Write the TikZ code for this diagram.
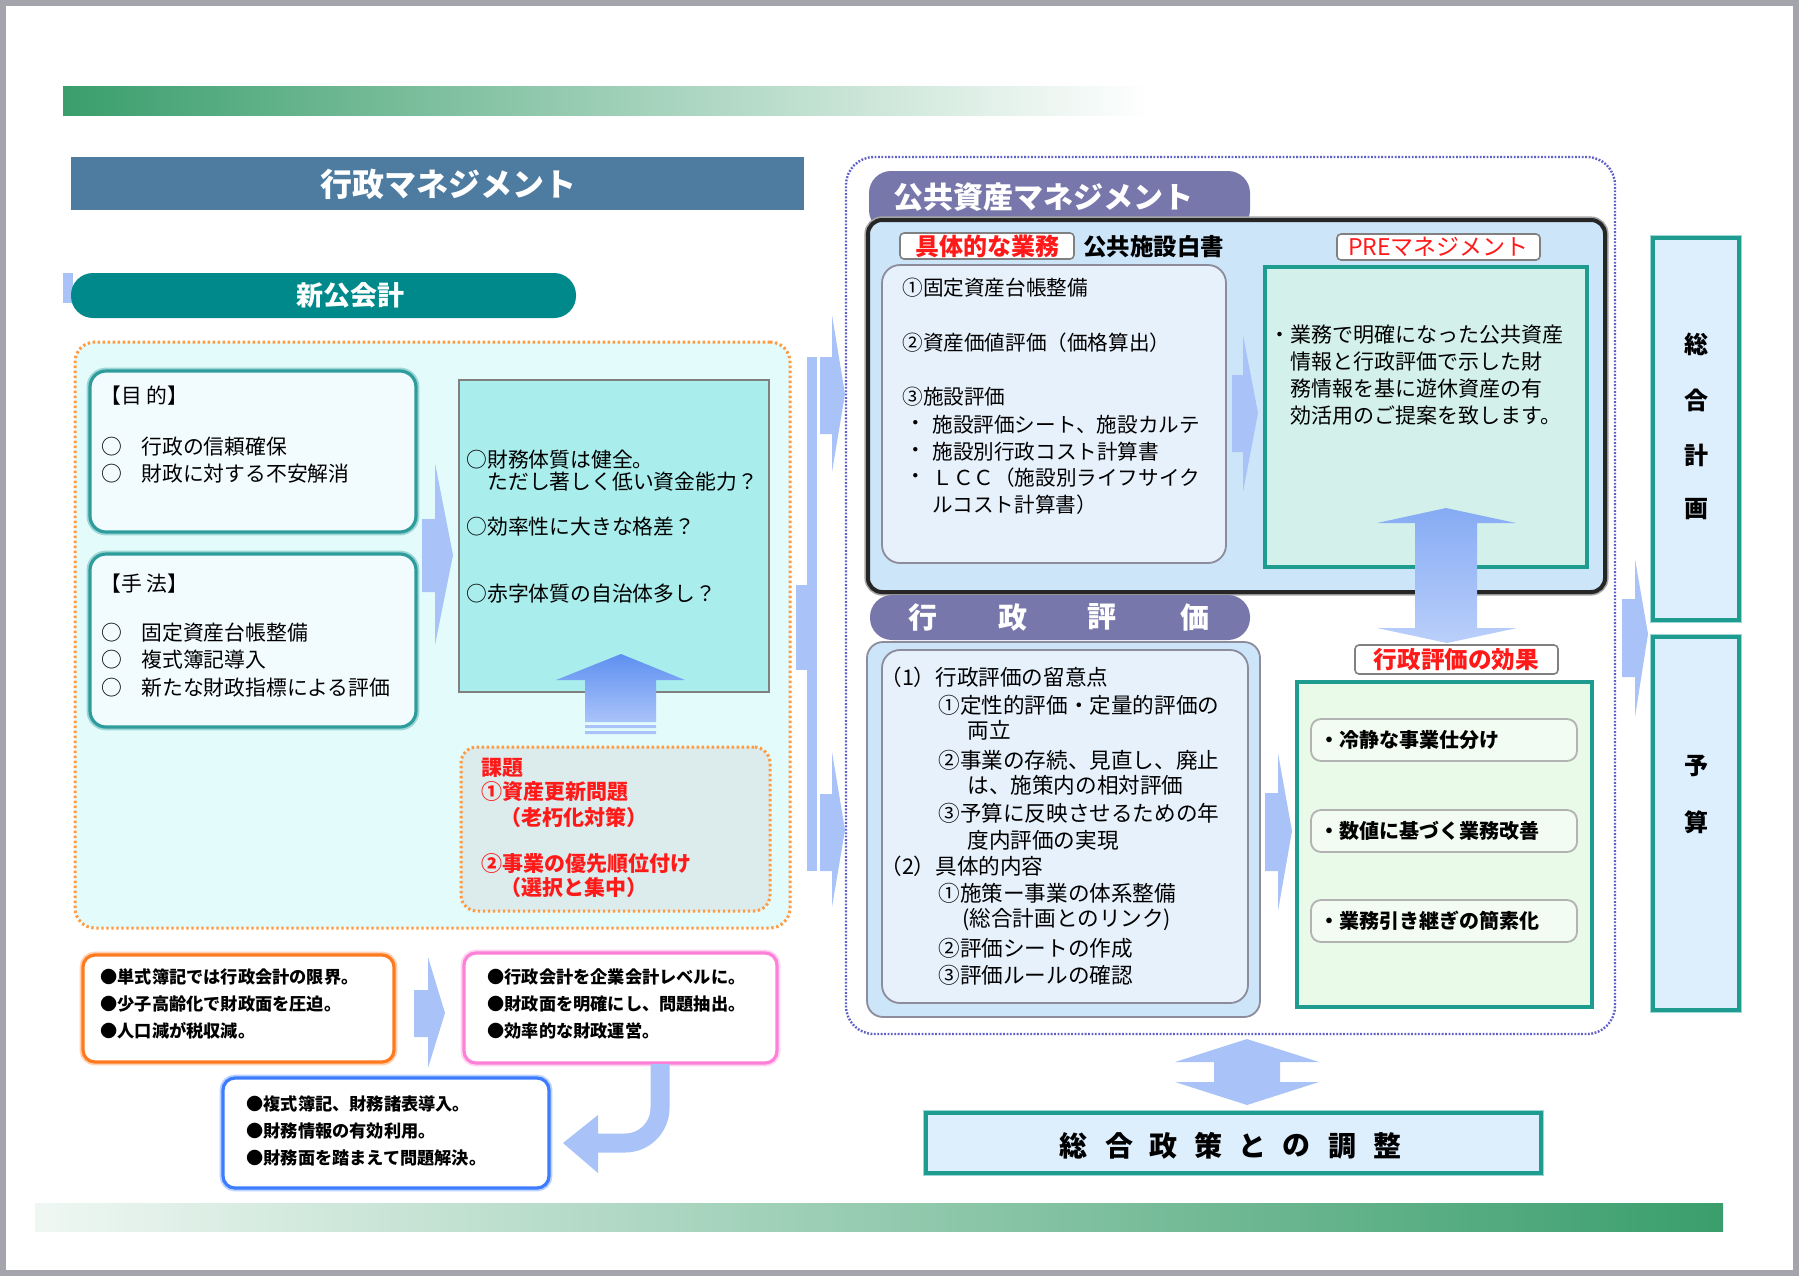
\documentclass[tikz,border=0pt]{standalone}
\usepackage{fontspec}
\setmainfont{Noto Sans CJK JP}
\usetikzlibrary{fit}
\definecolor{framegray}{HTML}{A4A4AC}
\definecolor{bargreen}{HTML}{3A9E6C}
\definecolor{titleblue}{HTML}{4E7BA0}
\definecolor{pillteal}{HTML}{00898A}
\definecolor{regioncyan}{HTML}{E3FBFB}
\definecolor{dotorange}{HTML}{FF9A40}
\definecolor{tealline}{HTML}{2E9C9C}
\definecolor{tealglow}{HTML}{9ED6D6}
\definecolor{cyanbox}{HTML}{A9EDEC}
\definecolor{kadaifill}{HTML}{DCEBEC}
\definecolor{redtxt}{HTML}{FF1A1A}
\definecolor{dotpurple}{HTML}{5F5FC8}
\definecolor{pillpurple}{HTML}{7777AB}
\definecolor{lightblue}{HTML}{CCE5F9}
\definecolor{innerblue}{HTML}{E7F1FC}
\definecolor{boxgray}{HTML}{8C8C9C}
\definecolor{preteal}{HTML}{1F9C90}
\definecolor{prefill}{HTML}{D3F1EA}
\definecolor{effectfill}{HTML}{E9FAE9}
\definecolor{itemfill}{HTML}{F3FCF3}
\definecolor{planfill}{HTML}{DDEEFD}
\definecolor{arrowpale}{HTML}{A9C3F9}
\definecolor{arrowmid}{HTML}{86ABF4}
\definecolor{arrowdeep}{HTML}{5E90F0}
\definecolor{lineorange}{HTML}{FF7A1E}
\definecolor{linepink}{HTML}{FF80D8}
\definecolor{lineblue}{HTML}{3C7CFF}
\newcommand{\jfs}[1]{\fontsize{#1pt}{#1pt}\selectfont}
\begin{document}
\begin{tikzpicture}[x=0.5pt,y=-0.5pt,
  txt/.style={anchor=west,inner sep=0pt,font=\jfs{10.4}},
  btxt/.style={txt,font=\jfs{10.4}\bfseries},
  bx/.style={inner sep=0pt,outer sep=0pt},
  tealbox/.style={bx,draw=tealline,line width=1.6pt,rounded corners=8pt,fill=white!95!cyan,preaction={draw=tealglow,line width=3.4pt}},
  softbox/.style={bx,draw=boxgray,line width=0.9pt,rounded corners=9pt},
  labelbox/.style={bx,draw=gray,line width=0.8pt,fill=white,rounded corners=2pt},
  planbox/.style={bx,draw=preteal,line width=2pt,fill=planfill,preaction={draw=tealglow,line width=3.4pt}},
  pill/.style={bx,fill=pillpurple,rounded corners=11pt},
  memo/.style={bx,line width=1.6pt,rounded corners=6pt,fill=white},
  blk/.style={fill=arrowpale,draw=none}]
\fill[white] (0,0) rectangle (1800,1276);
\useasboundingbox (0,0) rectangle (1800,1276);
\draw[framegray,line width=3pt] (3,3) rectangle (1796,1273);
% green bars
\shade[left color=bargreen,right color=white] (63,86) rectangle (1150,115);
\shade[left color=bargreen!8,right color=bargreen] (35,1203) rectangle (1723,1231);

% left half
\node[bx,fill=titleblue,fit={(71,157)(804,210)}] (gyosei) {};
\node[font=\jfs{16}\bfseries,text=white] (gyoseiT) at (448,184) {行政マネジメント};
\fill[arrowpale] (63,273) rectangle (73,303);
\node[bx,fill=pillteal,rounded corners=11pt,fit={(71,273)(576,318)}] (shinkai) {};
\node[font=\jfs{13.5}\bfseries,text=white] (shinkaiT) at (350,295) {新公会計};
\node[bx,draw=dotorange,line width=1.5pt,dash pattern=on 1.2pt off 1.3pt,fill=regioncyan,rounded corners=10pt,fit={(75,342)(790,928)}] (region) {};

\node[tealbox,fit={(90,371)(416,532)}] (mokuteki) {};
\node[txt] (mokutekiT) at (100,396) {【目 的】};
\foreach \tx/\yy [count=\i] in {行政の信頼確保/447,財政に対する不安解消/474}
  {\node[txt] (mo\i) at (101,\yy) {○}; \node[txt] (mt\i) at (141,\yy) {\tx};}
\node[tealbox,fit={(90,554)(416,727)}] (shuho) {};
\node[txt] (shuhoT) at (100,584) {【手 法】};
\foreach \tx/\yy [count=\i] in {固定資産台帳整備/633,複式簿記導入/660,新たな財政指標による評価/688}
  {\node[txt] (so\i) at (101,\yy) {○}; \node[txt] (st\i) at (141,\yy) {\tx};}
\fill[blk] (422,519) -- (435,519) -- (435,463) -- (453,555) -- (435,645) -- (435,592) -- (422,592) -- cycle;

\node[bx,draw=gray,line width=0.8pt,fill=cyanbox,fit={(459,380)(769,692)}] (kenzen) {};
\node[txt] (kz1) at (466,460) {○財務体質は健全。};
\node[txt] (kz2) at (487,482) {ただし著しく低い資金能力？};
\node[txt] (kz3) at (466,527) {○効率性に大きな格差？};
\node[txt] (kz4) at (466,594) {○赤字体質の自治体多し？};
\shade[top color=arrowdeep,bottom color=arrowpale] (621,654) -- (685,680) -- (656,680) -- (656,722) -- (585,722) -- (585,680) -- (556,680) -- cycle;
\fill[arrowpale] (585,725) rectangle (656,728) (585,731) rectangle (656,734);

\node[bx,draw=dotorange,line width=1.5pt,dash pattern=on 1.2pt off 1.3pt,fill=kadaifill,rounded corners=8pt,fit={(461,747)(770,911)}] (kadai) {};
\foreach \xx/\yy/\tx [count=\i] in {481/768/課題,481/792/①資産更新問題,500/817/（老朽化対策）,481/864/②事業の優先順位付け,500/888/（選択と集中）}
  \node[btxt,font=\jfs{10.5}\bfseries,text=redtxt] (kd\i) at (\xx,\yy) {\tx};

% bottom cycle
\node[memo,draw=lineorange,preaction={draw=lineorange!35,line width=3.4pt},fit={(83,955)(394,1062)}] (tanshiki) {};
\foreach \tx [count=\i] in {●単式簿記では行政会計の限界。,●少子高齢化で財政面を圧迫。,●人口減が税収減。}
  \node[btxt,font=\jfs{8.6}\bfseries] (ta\i) at (100,950+27*\i) {\tx};
\node[memo,draw=linepink,preaction={draw=linepink!35,line width=3.4pt},fit={(464,953)(777,1063)}] (kigyo) {};
\foreach \tx [count=\i] in {●行政会計を企業会計レベルに。,●財政面を明確にし、問題抽出。,●効率的な財政運営。}
  \node[btxt,font=\jfs{8.6}\bfseries] (ki\i) at (487,950+27*\i) {\tx};
\node[memo,draw=lineblue,preaction={draw=lineblue!35,line width=3.4pt},fit={(223,1078)(549,1188)}] (fukushiki) {};
\foreach \tx [count=\i] in {●複式簿記、財務諸表導入。,●財務情報の有効利用。,●財務面を踏まえて問題解決。}
  \node[btxt,font=\jfs{8.6}\bfseries] (fu\i) at (246,1077+27*\i) {\tx};
\fill[blk] (414,990) -- (428,990) -- (428,957) -- (445,1013) -- (428,1068) -- (428,1037) -- (414,1037) -- cycle;
\draw[arrowpale,line width=9.5pt] (660,1064) -- (660,1108) arc[start angle=0,end angle=90,radius=35] -- (598,1143);
\fill[blk] (598,1115) -- (563,1143) -- (598,1173) -- cycle;

% right half
\node[bx,draw=dotpurple,line width=1.2pt,dash pattern=on 0.9pt off 0.8pt,fill=white,rounded corners=14pt,fit={(846,157)(1615,1034)}] (koukyou) {};
\fill[blk] (796,585) rectangle (807,670);
\fill[blk] (807,357) rectangle (817,871);
\fill[blk] (820,357) -- (832,357) -- (832,315) -- (845,394) -- (832,472) -- (832,434) -- (820,434) -- cycle;
\fill[blk] (820,794) -- (832,794) -- (832,752) -- (845,830) -- (832,907) -- (832,871) -- (820,871) -- cycle;

\node[pill,fit={(869,171)(1250,232)}] (pam) {};
\node[txt,font=\jfs{15}\bfseries,text=white] (pamT) at (893,197) {公共資産マネジメント};
\node[bx,draw=black!85,line width=2pt,rounded corners=7pt,fill=lightblue,preaction={draw=gray!70,line width=3.6pt},fit={(868,220)(1605,592)}] (gyomu) {};
\node[labelbox,fit={(900,233)(1074,259)}] (gutai) {};
\node[font=\jfs{12}\bfseries,text=redtxt] (gutaiT) at (gutai.center) {具体的な業務};
\node[btxt,font=\jfs{11.7}\bfseries] (hakushoT) at (1083,247) {公共施設白書};
\node[labelbox,fit={(1337,234)(1540,260)}] (prelbl) {};
\node[font=\jfs{11.5},text=redtxt] (prelblT) at (prelbl.center) {PREマネジメント};

\node[softbox,fill=innerblue,fit={(882,265)(1226,563)}] (hakusho) {};
\foreach \tx/\yy [count=\i] in {①固定資産台帳整備/288,②資産価値評価（価格算出）/343,③施設評価/397}
  \node[txt,font=\jfs{10.3}] (hk\i) at (902,\yy) {\tx};
\foreach \tx/\yy [count=\i] in {施設評価シート、施設カルテ/425,施設別行政コスト計算書/452,ＬＣＣ（施設別ライフサイク/478}
  {\node[txt,font=\jfs{10.3}] (dt\i) at (905,\yy) {・}; \node[txt,font=\jfs{10.3}] (sd\i) at (932,\yy) {\tx};}
\node[txt,font=\jfs{10.3}] (sd4) at (932,505) {ルコスト計算書）};
\fill[blk] (1232,375) -- (1243,375) -- (1243,335) -- (1258,413) -- (1243,492) -- (1243,452) -- (1232,452) -- cycle;

\node[bx,draw=preteal,line width=2pt,fill=prefill,fit={(1265,267)(1587,567)}] (pre) {};
\node[txt,font=\jfs{10.5}] (pre1) at (1269,335) {・業務で明確になった公共資産};
\foreach \tx/\yy [count=\i from 2] in {情報と行政評価で示した財/362,務情報を基に遊休資産の有/388,効活用のご提案を致します。/416}
  \node[txt,font=\jfs{10.5}] (pre\i) at (1290,\yy) {\tx};

\node[pill,fit={(870,595)(1250,640)}] (hyokaPill) {};
\foreach \ch/\xx [count=\i] in {行/923,政/1013,評/1102,価/1195}
  \node[font=\jfs{14.5}\bfseries,text=white] (hp\i) at (\xx,617) {\ch};
\node[softbox,fill=lightblue,rounded corners=8pt,fit={(867,642)(1260,1017)}] (hyoka) {};
\node[softbox,fill=innerblue,fit={(882,650)(1248,1003)}] (hyokaIn) {};
\foreach \xx/\yy/\tx [count=\i] in {880/677/（1）行政評価の留意点,938/705/①定性的評価・定量的評価の,967/730/両立,938/760/②事業の存続、見直し、廃止,967/785/は、施策内の相対評価,938/813/③予算に反映させるための年,967/840/度内評価の実現,880/866/（2）具体的内容,938/893/①施策ー事業の体系整備,962/920/{(総合計画とのリンク)},938/948/②評価シートの作成,938/975/③評価ルールの確認}
  \node[txt,font=\jfs{10.8}] (hy\i) at (\xx,\yy) {\tx};
\fill[blk] (1265,793) -- (1278,793) -- (1278,753) -- (1292,831) -- (1278,911) -- (1278,871) -- (1265,871) -- cycle;

\node[labelbox,fit={(1355,645)(1558,674)}] (kokaLbl) {};
\node[font=\jfs{11.8}\bfseries,text=redtxt] (kokaLblT) at (kokaLbl.center) {行政評価の効果};
\node[bx,draw=preteal,line width=2pt,fill=effectfill,fit={(1297,682)(1592,1007)}] (koka) {};
\foreach \tx/\yy [count=\i] in {・冷静な事業仕分け/740,・数値に基づく業務改善/831,・業務引き継ぎの簡素化/921}
  {\node[bx,draw=gray!60,line width=0.9pt,fill=itemfill,rounded corners=5pt,fit={(1311,\yy-21)(1577,\yy+21)}] (item\i) {};
   \node[btxt,font=\jfs{10}\bfseries] (itemT\i) at (1319,\yy) {\tx};}
\shade[top color=arrowmid,bottom color=arrowpale!80!white] (1446,508) -- (1516,523) -- (1477,523) -- (1477,628) -- (1517,628) -- (1447,643) -- (1377,628) -- (1415,628) -- (1415,523) -- (1377,523) -- cycle;

% plan and budget
\node[planbox,fit={(1653,238)(1739,620)}] (keikaku) {};
\foreach \ch/\yy [count=\i] in {総/344,合/400,計/455,画/509}
  \node[font=\jfs{12}\bfseries] (kk\i) at (1696,\yy) {\ch};
\node[planbox,fit={(1653,637)(1739,1010)}] (yosan) {};
\foreach \ch/\yy [count=\i] in {予/766,算/822}
  \node[font=\jfs{12}\bfseries] (ys\i) at (1696,\yy) {\ch};
\fill[blk] (1622,599) -- (1635,599) -- (1635,559) -- (1648,634) -- (1635,717) -- (1635,677) -- (1622,677) -- cycle;

% adjustment
\fill[blk] (1247,1039) -- (1319,1062) -- (1280,1062) -- (1280,1082) -- (1319,1082) -- (1247,1105) -- (1175,1082) -- (1214,1082) -- (1214,1062) -- (1175,1062) -- cycle;
\node[planbox,fit={(926,1113)(1541,1173)}] (chosei) {};
\foreach \ch/\xx [count=\i] in {総/1073,合/1119,政/1163,策/1208,と/1252,の/1296,調/1342,整/1387}
  \node[font=\jfs{14}\bfseries] (cs\i) at (\xx,1146) {\ch};
\end{tikzpicture}
\end{document}
